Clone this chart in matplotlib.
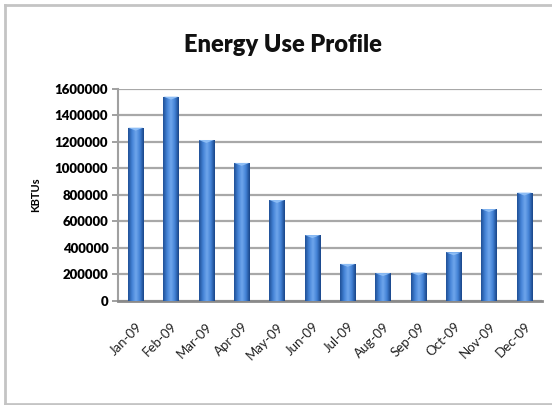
import numpy as np
import matplotlib.pyplot as plt
from matplotlib.colors import LinearSegmentedColormap
from matplotlib.lines import Line2D

months = ['Jan-09', 'Feb-09', 'Mar-09', 'Apr-09', 'May-09', 'Jun-09',
          'Jul-09', 'Aug-09', 'Sep-09', 'Oct-09', 'Nov-09', 'Dec-09']
kbtus = [1308000, 1542000, 1215000, 1042000, 762000, 497000,
         280000, 210000, 215000, 367000, 693000, 818000]
yticks = [0, 200000, 400000, 600000, 800000, 1000000, 1200000, 1400000, 1600000]

plt.rcParams['font.family'] = ['Lato', 'DejaVu Sans']

fig = plt.figure(figsize=(5.52, 4.05), dpi=100)
ax = fig.add_axes([0.2138, 0.2568, 0.768, 0.5235])

x = np.arange(len(months))
width = 0.43
bars = ax.bar(x, kbtus, width=width, color='#3A6FC0', zorder=3)

# cylinder shading across each bar
shade = LinearSegmentedColormap.from_list(
    'shade', ['#1F4F95', '#4382D6', '#70A6EC', '#4382D6', '#184486'])
grad = np.linspace(0, 1, 64).reshape(1, -1)
for b in bars:
    x0, w, h = b.get_x(), b.get_width(), b.get_height()
    im = ax.imshow(grad, cmap=shade, aspect='auto', zorder=4,
                   extent=[x0, x0 + w, 0, h], interpolation='bicubic')
    im.set_clip_path(b)
    # lighter cap on top
    ax.fill([x0, x0 + w, x0 + w * 0.5], [h, h, h - 22000],
            color='#8DBDF5', zorder=5, lw=0)

ax.set_xlim(-0.5, len(months) - 0.5)
ax.set_ylim(0, 1600000)
ax.set_yticks(yticks)
ax.set_yticklabels([str(v) for v in yticks], fontsize=9.5, fontweight='heavy')
ax.set_xticks(x)
ax.set_xticklabels(months, rotation=45, ha='right', rotation_mode='anchor',
                   fontsize=9.5, color='#222222')
ax.tick_params(axis='x', length=0, pad=14)
ax.tick_params(axis='y', length=4, width=1.2, color='#909090', pad=3)
ax.yaxis.grid(True, color='#A8A8A8', lw=1.6, zorder=0)
ax.set_axisbelow(True)
for s in ['top', 'right']:
    ax.spines[s].set_visible(False)
ax.spines['left'].set_color('#A0A0A0')
ax.spines['left'].set_linewidth(1.5)
ax.spines['bottom'].set_color('#8A8A8A')
ax.spines['bottom'].set_linewidth(2)

ax.set_ylabel('KBTUs', fontsize=8, fontweight='bold', labelpad=10)
fig.text(0.512, 0.888, 'Energy Use Profile', ha='center', va='center',
         fontsize=17, fontweight='heavy', color='#111111')

# outer chart frame
fc = '#C4C4C4'
fig.add_artist(Line2D([5 / 552, 5 / 552], [1 / 405, 400 / 405], color=fc, lw=2))
fig.add_artist(Line2D([5 / 552, 1], [400 / 405, 400 / 405], color=fc, lw=2))
fig.add_artist(Line2D([5 / 552, 1], [1 / 405, 1 / 405], color=fc, lw=2))

fig.savefig('out.png', dpi=100)
